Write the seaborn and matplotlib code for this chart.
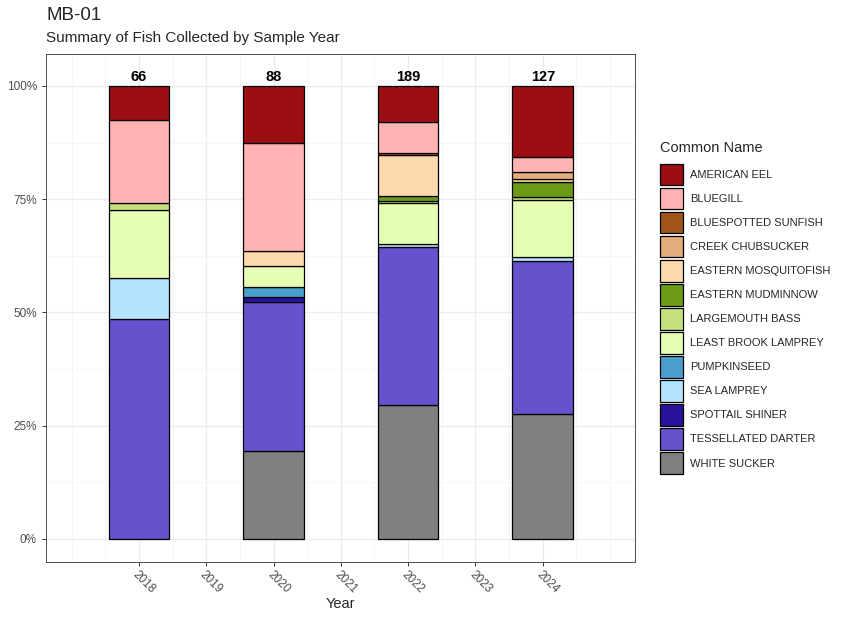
import numpy as np
import pandas as pd
import matplotlib
matplotlib.use("Agg")
import matplotlib.pyplot as plt
from matplotlib.patches import Patch
from matplotlib.ticker import MultipleLocator, FixedLocator, FuncFormatter
import seaborn as sns

# 数据
years = [2018, 2020, 2022, 2024]
species = [
    "AMERICAN EEL", "BLUEGILL", "BLUESPOTTED SUNFISH", "CREEK CHUBSUCKER",
    "EASTERN MOSQUITOFISH", "EASTERN MUDMINNOW", "LARGEMOUTH BASS",
    "LEAST BROOK LAMPREY", "PUMPKINSEED", "SEA LAMPREY", "SPOTTAIL SHINER",
    "TESSELLATED DARTER", "WHITE SUCKER",
]
american_eel = [5, 11, 15, 20]
bluegill = [12, 21, 13, 4]
bluespotted_sunfish = [0, 0, 1, 0]
creek_chubsucker = [0, 0, 0, 2]
eastern_mosquitofish = [0, 3, 17, 1]
eastern_mudminnow = [0, 0, 2, 4]
largemouth_bass = [1, 0, 1, 1]
least_brook_lamprey = [10, 4, 17, 16]
pumpkinseed = [0, 2, 0, 0]
sea_lamprey = [6, 0, 1, 1]
spottail_shiner = [0, 1, 0, 0]
tessellated_darter = [32, 29, 66, 43]
white_sucker = [0, 17, 56, 35]
tick_years = [2018, 2019, 2020, 2021, 2022, 2023, 2024]

colors = [
    "#9B0F12", "#FFB3B3", "#A0561A", "#E3AD7C", "#FFD9AE", "#6B9A14",
    "#C5E07C", "#E6FFB5", "#4A9FCC", "#B3E3FF", "#2A1199", "#6652CC",
    "#808080",
]

all_counts = [
    american_eel, bluegill, bluespotted_sunfish, creek_chubsucker,
    eastern_mosquitofish, eastern_mudminnow, largemouth_bass,
    least_brook_lamprey, pumpkinseed, sea_lamprey, spottail_shiner,
    tessellated_darter, white_sucker,
]

rows = []
for name, cnts in zip(species, all_counts):
    for yr, c in zip(years, cnts):
        if c > 0:
            rows.append({"Year": yr, "Common Name": name, "n": c})
df = pd.DataFrame(rows)
totals = df.groupby("Year")["n"].sum()

sns.set_theme(style="white")
plt.rcParams["font.family"] = ["Liberation Sans", "DejaVu Sans"]

fig = plt.figure(figsize=(8.61, 6.22), dpi=100)
ax = fig.add_axes([46 / 861, 1 - 562 / 622, (635 - 46) / 861, (562 - 54) / 622])

sns.histplot(
    data=df, x="Year", weights="n", hue="Common Name", hue_order=species,
    palette=colors, multiple="fill", discrete=True, shrink=0.9,
    alpha=1, edgecolor="black", linewidth=0.9, legend=False, ax=ax,
)

# 去掉空的柱子
for p in list(ax.patches):
    h = p.get_height()
    if not np.isfinite(h) or h <= 0:
        p.remove()

# 总数标签
for yr in years:
    ax.text(yr, 1.004, str(totals[yr]), ha="center", va="bottom",
            fontsize=10.5, fontweight="bold", color="black")

ax.set_xlim(2016.62, 2025.37)
ax.set_ylim(-0.0508, 1.0706)
ax.xaxis.set_major_locator(FixedLocator(tick_years))
ax.xaxis.set_minor_locator(MultipleLocator(0.5))
ax.yaxis.set_major_locator(MultipleLocator(0.25))
ax.yaxis.set_minor_locator(MultipleLocator(0.125))
ax.xaxis.set_major_formatter(FuncFormatter(lambda v, pos: f"{int(round(v))}"))
ax.yaxis.set_major_formatter(FuncFormatter(lambda v, pos: f"{int(round(v * 100))}%"))
ax.set_axisbelow(True)
ax.grid(which="major", color="#EBEBEB", linewidth=0.9)
ax.grid(which="minor", color="#F3F3F3", linewidth=0.5)
for s in ax.spines.values():
    s.set_color("#4D4D4D")
    s.set_linewidth(0.7)
ax.tick_params(axis="both", which="major", length=3, width=0.7, color="#333333",
               labelsize=8.5, labelcolor="#4D4D4D", bottom=True, left=True)
ax.tick_params(axis="x", which="major", pad=2)
ax.tick_params(which="minor", length=0)
plt.setp(ax.get_xticklabels(), rotation=-45, ha="left", va="top",
         rotation_mode="anchor")
ax.set_xlabel("Year", fontsize=10.5, labelpad=1)
ax.set_ylabel("")

fig.text(46 / 861, 1 - 15 / 622, "MB-01", fontsize=13.5, va="center", ha="left")
fig.text(46 / 861, 1 - 38 / 622, "Summary of Fish Collected by Sample Year",
         fontsize=11, va="center", ha="left")

handles = [Patch(facecolor=c, edgecolor="black", linewidth=0.9) for c in colors]
leg = fig.legend(handles, species, title="Common Name", loc="upper left",
                 bbox_to_anchor=(656 / 861, 1 - 137 / 622), frameon=False,
                 fontsize=8, title_fontsize=10.5, handlelength=2.0,
                 handleheight=2.6, labelspacing=0.23, handletextpad=0.7,
                 borderaxespad=0)
leg._legend_box.align = "left"
leg._legend_box.sep = 6

fig.savefig("out.png", dpi=100)
